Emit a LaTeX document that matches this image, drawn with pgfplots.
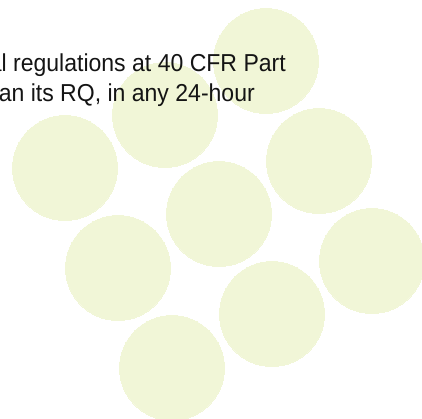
\documentclass[border=0pt]{standalone}
\usepackage{fontspec}
\setmainfont{Liberation Sans}[FakeStretch=0.94]
\usepackage{pgfplots}
\pgfplotsset{compat=1.18}
\definecolor{circ}{RGB}{241,246,215}
\definecolor{txt}{RGB}{20,20,20}
\begin{document}
\begin{tikzpicture}
\begin{axis}[width=422bp,height=419bp,scale only axis,
  xmin=0,xmax=422,ymin=0,ymax=419,y dir=reverse,
  hide axis, clip marker paths=true]
\addplot[only marks, mark=*, mark size=52.5bp, color=circ, mark options={fill=circ,draw=circ,line width=0pt}] coordinates {
(266,61) (165,115) (65,168) (319,161) (219,214) (118,268) (372,261) (272,314) (172,368)
};
\coordinate (T1) at (axis cs:286,72);
\coordinate (T2) at (axis cs:255,102);
\coordinate (SW) at (rel axis cs:0,0);
\coordinate (NE) at (rel axis cs:1,1);
\end{axis}
\node[anchor=base east, inner sep=0pt, text=txt, font=\fontsize{24.5bp}{30bp}\selectfont] at (T1) {federal regulations at 40 CFR Part};
\node[anchor=base east, inner sep=0pt, text=txt, font=\fontsize{24.5bp}{30bp}\selectfont] at (T2) {than its RQ, in any 24-hour};
\pgfresetboundingbox
\path (SW) rectangle (NE);
\end{tikzpicture}
\end{document}
